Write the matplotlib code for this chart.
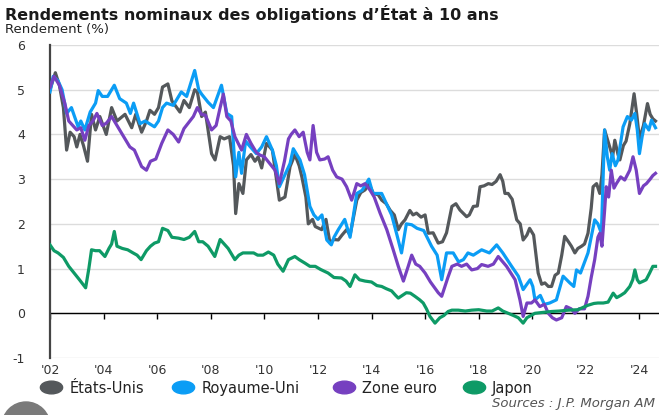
import numpy as np
import matplotlib
matplotlib.use('Agg')
import matplotlib.pyplot as plt
from matplotlib.lines import Line2D
from matplotlib.path import Path
from matplotlib.patches import Circle
from matplotlib.transforms import IdentityTransform

# 10-year government bond yields (%)
us_years = [2002.0, 2002.2, 2002.35, 2002.5, 2002.62, 2002.75, 2002.9, 2003.0, 2003.12, 2003.25,
            2003.4, 2003.55, 2003.7, 2003.86, 2004.1, 2004.3, 2004.5, 2004.8, 2005.05, 2005.2,
            2005.42, 2005.6, 2005.73, 2005.9, 2006.05, 2006.2, 2006.4, 2006.55, 2006.85, 2007.0,
            2007.2, 2007.4, 2007.5, 2007.66, 2007.8, 2008.03, 2008.16, 2008.35, 2008.5, 2008.7,
            2008.85, 2008.93, 2009.05, 2009.2, 2009.33, 2009.5, 2009.65, 2009.77, 2009.9, 2010.08,
            2010.3, 2010.45, 2010.56, 2010.77, 2010.96, 2011.14, 2011.3, 2011.4, 2011.55, 2011.64,
            2011.8, 2011.9, 2012.14, 2012.3, 2012.45, 2012.6, 2012.76, 2012.9, 2013.07, 2013.2,
            2013.45, 2013.6, 2013.76, 2013.9, 2014.07, 2014.25, 2014.38, 2014.55, 2014.7, 2014.85,
            2015.0, 2015.12, 2015.25, 2015.43, 2015.55, 2015.68, 2015.85, 2016.0, 2016.12, 2016.3,
            2016.49, 2016.65, 2016.8, 2017.0, 2017.15, 2017.3, 2017.55, 2017.65, 2017.8, 2017.95,
            2018.05, 2018.2, 2018.36, 2018.5, 2018.65, 2018.8, 2018.9, 2018.98, 2019.1, 2019.25,
            2019.42, 2019.55, 2019.66, 2019.8, 2019.9, 2020.05, 2020.22, 2020.35, 2020.47, 2020.6,
            2020.72, 2020.85, 2020.97, 2021.1, 2021.21, 2021.35, 2021.46, 2021.59, 2021.7, 2021.84,
            2021.95, 2022.08, 2022.2, 2022.27, 2022.4, 2022.52, 2022.6, 2022.7, 2022.8, 2022.89,
            2023.0, 2023.08, 2023.2, 2023.27, 2023.4, 2023.5, 2023.64, 2023.8, 2023.9, 2024.0,
            2024.15, 2024.3, 2024.4, 2024.5, 2024.6]
us_vals = [5.0, 5.38, 5.1, 4.6, 3.65, 4.05, 3.95, 3.72, 4.0, 3.75,
           3.4, 4.45, 4.1, 4.4, 4.0, 4.6, 4.3, 4.45, 4.15, 4.45,
           4.05, 4.3, 4.54, 4.45, 4.6, 5.06, 5.13, 4.75, 4.5, 4.76,
           4.6, 5.0, 4.95, 4.4, 4.5, 3.57, 3.43, 3.95, 3.9, 3.95,
           3.3, 2.23, 2.9, 2.68, 3.43, 3.55, 3.4, 3.5, 3.25, 3.8,
           3.65, 3.0, 2.53, 2.6, 3.28, 3.55, 3.3, 3.05, 2.6, 2.0,
           2.1, 1.94, 1.87, 2.1, 1.57, 1.65, 1.64, 1.75, 1.87, 1.75,
           2.53, 2.7, 2.76, 2.9, 2.68, 2.65, 2.53, 2.45, 2.3, 2.2,
           1.87, 2.0, 2.09, 2.3, 2.2, 2.24, 2.15, 2.2, 1.79, 1.8,
           1.57, 1.6, 1.8, 2.39, 2.45, 2.31, 2.16, 2.2, 2.39, 2.4,
           2.83, 2.85, 2.9, 2.88, 2.95, 3.1, 2.95, 2.68, 2.68, 2.55,
           2.09, 2.0, 1.64, 1.75, 1.9, 1.75, 0.9, 0.65, 0.68, 0.6,
           0.6, 0.85, 0.9, 1.3, 1.72, 1.6, 1.5, 1.35, 1.45, 1.5,
           1.55, 1.79, 2.35, 2.83, 2.9, 2.68, 3.1, 4.1, 3.9, 3.72,
           3.5, 3.87, 3.55, 3.43, 3.75, 3.85, 4.24, 4.91, 4.45, 3.9,
           4.2, 4.69, 4.45, 4.35, 4.3]

uk_years = [2002.0, 2002.12, 2002.3, 2002.45, 2002.62, 2002.8, 2003.05, 2003.15, 2003.3, 2003.5,
            2003.7, 2003.8, 2003.95, 2004.15, 2004.4, 2004.6, 2004.85, 2005.0, 2005.12, 2005.36,
            2005.55, 2005.9, 2006.05, 2006.2, 2006.35, 2006.6, 2006.9, 2007.1, 2007.4, 2007.55,
            2007.66, 2007.9, 2008.1, 2008.4, 2008.6, 2008.78, 2008.93, 2009.05, 2009.15, 2009.3,
            2009.48, 2009.7, 2009.9, 2010.08, 2010.3, 2010.45, 2010.56, 2010.77, 2010.96, 2011.08,
            2011.33, 2011.5, 2011.7, 2011.85, 2012.0, 2012.15, 2012.33, 2012.5, 2012.6, 2012.76,
            2013.0, 2013.2, 2013.45, 2013.65, 2013.9, 2014.05, 2014.38, 2014.55, 2014.75, 2014.95,
            2015.12, 2015.3, 2015.5, 2015.7, 2015.95, 2016.24, 2016.45, 2016.62, 2016.8, 2017.05,
            2017.25, 2017.43, 2017.6, 2017.8, 2018.11, 2018.4, 2018.67, 2018.9, 2019.23, 2019.48,
            2019.66, 2019.8, 2019.92, 2020.02, 2020.1, 2020.3, 2020.45, 2020.65, 2020.9, 2021.15,
            2021.4, 2021.55, 2021.65, 2021.8, 2022.08, 2022.33, 2022.45, 2022.58, 2022.7, 2022.8,
            2022.89, 2022.98, 2023.1, 2023.2, 2023.39, 2023.55, 2023.7, 2023.83, 2023.92, 2024.0,
            2024.1, 2024.2, 2024.35, 2024.45, 2024.6]
uk_vals = [4.95, 5.3, 5.2, 5.0, 4.47, 4.6, 4.17, 4.3, 4.1, 4.5,
           4.7, 4.98, 4.85, 4.85, 5.1, 4.8, 4.7, 4.47, 4.7, 4.24,
           4.3, 4.17, 4.3, 4.6, 4.7, 4.65, 4.95, 4.85, 5.43, 5.0,
           4.9, 4.72, 4.6, 5.1, 4.47, 4.4, 3.05, 3.6, 3.13, 3.85,
           3.72, 3.57, 3.72, 3.95, 3.65, 3.3, 2.83, 3.1, 3.35, 3.68,
           3.43, 3.1, 2.39, 2.2, 2.1, 2.2, 1.64, 1.53, 1.7, 1.87,
           2.1, 1.7, 2.68, 2.75, 3.0, 2.68, 2.68, 2.46, 2.2, 1.75,
           1.35, 2.0, 1.98, 1.9, 1.85, 1.5, 1.3, 0.75, 1.35, 1.35,
           1.15, 1.2, 1.35, 1.3, 1.42, 1.35, 1.53, 1.35, 1.05, 0.83,
           0.53, 0.65, 0.75, 0.6, 0.3, 0.4, 0.2, 0.23, 0.3, 0.83,
           0.68, 0.6, 0.97, 0.9, 1.35, 2.09, 2.0, 1.79, 4.1, 3.5,
           3.2, 3.57, 3.3, 3.43, 4.17, 4.4, 4.32, 4.47, 4.1, 3.57,
           3.95, 4.24, 4.1, 4.32, 4.15]

ez_years = [2002.0, 2002.15, 2002.35, 2002.55, 2002.7, 2002.85, 2003.0, 2003.15, 2003.3, 2003.45,
            2003.6, 2003.75, 2003.95, 2004.1, 2004.3, 2004.55, 2004.8, 2004.98, 2005.15, 2005.42,
            2005.6, 2005.75, 2005.95, 2006.17, 2006.4, 2006.6, 2006.8, 2007.0, 2007.35, 2007.5,
            2007.65, 2007.8, 2008.03, 2008.2, 2008.35, 2008.47, 2008.6, 2008.75, 2008.9, 2009.15,
            2009.33, 2009.5, 2009.7, 2009.83, 2010.0, 2010.2, 2010.4, 2010.56, 2010.75, 2010.9,
            2011.0, 2011.14, 2011.3, 2011.45, 2011.6, 2011.7, 2011.82, 2011.95, 2012.07, 2012.25,
            2012.38, 2012.55, 2012.7, 2012.9, 2013.07, 2013.26, 2013.45, 2013.6, 2013.76, 2013.95,
            2014.1, 2014.32, 2014.57, 2014.81, 2015.0, 2015.19, 2015.37, 2015.5, 2015.65, 2015.8,
            2016.0, 2016.2, 2016.49, 2016.62, 2016.85, 2017.0, 2017.2, 2017.36, 2017.55, 2017.74,
            2017.95, 2018.11, 2018.35, 2018.55, 2018.73, 2018.9, 2019.04, 2019.2, 2019.36, 2019.54,
            2019.66, 2019.8, 2019.97, 2020.1, 2020.28, 2020.45, 2020.6, 2020.75, 2020.9, 2021.1,
            2021.27, 2021.45, 2021.59, 2021.75, 2021.95, 2022.08, 2022.2, 2022.33, 2022.45, 2022.52,
            2022.6, 2022.7, 2022.76, 2022.85, 2022.95, 2023.05, 2023.14, 2023.3, 2023.45, 2023.64,
            2023.76, 2023.88, 2024.0, 2024.15, 2024.26, 2024.4, 2024.5, 2024.6]
ez_vals = [5.05, 5.3, 5.1, 4.7, 4.3, 4.2, 4.1, 4.15, 3.87, 4.2,
           4.3, 4.47, 4.2, 4.25, 4.4, 4.15, 3.9, 3.72, 3.65, 3.28,
           3.2, 3.4, 3.45, 3.8, 4.1, 4.0, 3.83, 4.13, 4.4, 4.6,
           4.45, 4.43, 4.1, 4.2, 4.6, 4.9, 4.4, 4.3, 3.95, 3.65,
           4.0, 3.8, 3.6, 3.54, 3.5, 3.35, 3.2, 2.9, 3.4, 3.9,
           4.0, 4.1, 3.95, 4.05, 3.6, 3.43, 4.2, 3.6, 3.43, 3.45,
           3.5, 3.2, 3.05, 3.0, 2.83, 2.53, 2.9, 2.85, 2.9, 2.75,
           2.6, 2.24, 1.87, 1.42, 1.05, 0.72, 1.05, 1.3, 1.1, 1.05,
           0.9, 0.7, 0.46, 0.38, 0.8, 1.05, 1.1, 1.05, 1.1, 0.97,
           1.0, 1.09, 1.05, 1.1, 1.27, 1.15, 1.05, 0.9, 0.75, 0.3,
           -0.07, 0.23, 0.23, 0.3, 0.15, 0.2, 0.0, -0.1, -0.15, -0.1,
           0.15, 0.1, 0.0, 0.1, 0.1, 0.38, 0.8, 1.2, 1.7, 1.79,
           1.5, 2.3, 2.83, 2.6, 3.2, 2.8, 2.9, 3.05, 2.98, 3.2,
           3.5, 3.2, 2.68, 2.85, 2.9, 3.0, 3.08, 3.13]

jp_years = [2002.0, 2002.15, 2002.3, 2002.5, 2002.7, 2002.9, 2003.1, 2003.33, 2003.45, 2003.55,
            2003.7, 2003.85, 2004.05, 2004.2, 2004.3, 2004.4, 2004.5, 2004.7, 2004.9, 2005.1,
            2005.25, 2005.4, 2005.6, 2005.75, 2005.9, 2006.05, 2006.2, 2006.4, 2006.55, 2006.8,
            2007.0, 2007.2, 2007.4, 2007.55, 2007.7, 2007.9, 2008.15, 2008.35, 2008.5, 2008.65,
            2008.9, 2009.05, 2009.2, 2009.4, 2009.6, 2009.75, 2009.95, 2010.15, 2010.35, 2010.5,
            2010.7, 2010.9, 2011.14, 2011.3, 2011.52, 2011.7, 2011.9, 2012.1, 2012.38, 2012.6,
            2012.88, 2013.05, 2013.2, 2013.38, 2013.55, 2013.76, 2014.0, 2014.2, 2014.38, 2014.55,
            2014.75, 2014.9, 2015.0, 2015.15, 2015.3, 2015.45, 2015.62, 2015.8, 2015.93, 2016.05,
            2016.18, 2016.37, 2016.55, 2016.7, 2016.86, 2017.0, 2017.24, 2017.5, 2017.74, 2018.0,
            2018.3, 2018.5, 2018.73, 2018.9, 2019.1, 2019.3, 2019.48, 2019.66, 2019.8, 2019.95,
            2020.1, 2020.4, 2020.72, 2021.0, 2021.34, 2021.7, 2022.08, 2022.3, 2022.45, 2022.65,
            2022.83, 2023.02, 2023.15, 2023.3, 2023.45, 2023.64, 2023.75, 2023.83, 2023.92, 2024.0,
            2024.15, 2024.25, 2024.38, 2024.5, 2024.6]
jp_vals = [1.53, 1.4, 1.35, 1.25, 1.05, 0.9, 0.75, 0.57, 1.0, 1.42,
           1.4, 1.4, 1.27, 1.45, 1.55, 1.83, 1.5, 1.45, 1.42, 1.35,
           1.3, 1.2, 1.4, 1.5, 1.57, 1.6, 1.9, 1.85, 1.7, 1.68,
           1.65, 1.7, 1.83, 1.6, 1.6, 1.5, 1.27, 1.65, 1.55, 1.45,
           1.2, 1.3, 1.35, 1.35, 1.35, 1.3, 1.3, 1.37, 1.3, 1.1,
           0.94, 1.2, 1.27, 1.2, 1.12, 1.05, 1.05, 0.98, 0.9, 0.8,
           0.79, 0.72, 0.6, 0.86, 0.75, 0.72, 0.7, 0.62, 0.6, 0.55,
           0.5, 0.4, 0.34, 0.4, 0.46, 0.45, 0.38, 0.3, 0.23, 0.1,
           -0.07, -0.22, -0.1, -0.05, 0.04, 0.07, 0.07, 0.05, 0.07, 0.08,
           0.05, 0.05, 0.12, 0.05, 0.0, -0.05, -0.1, -0.22, -0.1, -0.05,
           0.0, 0.02, 0.04, 0.05, 0.07, 0.08, 0.18, 0.22, 0.23, 0.23,
           0.25, 0.45, 0.35, 0.4, 0.46, 0.6, 0.75, 0.97, 0.75, 0.68,
           0.72, 0.75, 0.9, 1.05, 1.05]

series_names = ['États-Unis', 'Royaume-Uni', 'Zone euro', 'Japon']
series_colors = ['#54585b', '#0b9df5', '#7640c0', '#0e9a66']
tick_years = list(range(2002, 2025, 2))
tick_labels = ["'%02d" % (y % 100) for y in tick_years]
y_ticks = list(range(-1, 7))

plt.rcParams['font.family'] = ['DejaVu Sans']

fig = plt.figure(figsize=(6.64, 4.15), dpi=100)
ax = fig.add_axes([50 / 664, 57 / 415, 609 / 664, 313 / 415])

series = [(us_years, us_vals), (uk_years, uk_vals), (ez_years, ez_vals), (jp_years, jp_vals)]
for (xs, ys), name, col in zip(series, series_names, series_colors):
    ax.plot(xs, ys, color=col, lw=2.3, label=name, solid_joinstyle='round', zorder=3)

ax.set_xlim(2002, 2024.73)
ax.set_ylim(-1, 6)
ax.set_yticks(y_ticks)
ax.set_yticklabels([str(v) for v in y_ticks])
ax.set_xticks(tick_years)
ax.set_xticklabels(tick_labels)
ax.tick_params(axis='y', length=0, pad=18, labelsize=9, labelcolor='#333333')
ax.tick_params(axis='x', length=0, pad=4, labelsize=9, labelcolor='#333333')
ax.grid(axis='y', color='#dcdcdc', lw=1)
ax.set_axisbelow(True)
ax.axhline(0, color='black', lw=1, zorder=2)
for s in ['top', 'right', 'bottom']:
    ax.spines[s].set_visible(False)
ax.spines['left'].set_color('#444444')
ax.spines['left'].set_linewidth(1.6)

# small tick marks hanging under the zero line
zero_axis = ax.secondary_xaxis(1 / 7)
zero_axis.set_xticks(tick_years)
zero_axis.tick_params(axis='x', which='major', bottom=True, top=False, direction='out',
                      length=4, width=1, color='black', labelbottom=False, labeltop=False)
zero_axis.spines['bottom'].set_visible(False)
zero_axis.spines['top'].set_visible(False)

# legend with oval markers, one entry per position as in the reference
oval = Path(Path.unit_circle().vertices * [1.75, 1.0], Path.unit_circle().codes)
legend_x = [40, 172, 333, 463]
for name, col, lx in zip(series_names, series_colors, legend_x):
    h = Line2D([], [], ls='none', marker=oval, markersize=16, color=col)
    fig.legend([h], [name], loc='center left', bbox_to_anchor=(lx / 664, 1 - 388 / 415),
               frameon=False, fontsize=10.5, handlelength=1.5, handletextpad=0.5,
               borderpad=0, borderaxespad=0, labelcolor='#222222')

fig.text(5 / 664, 1 - 14 / 415, "Rendements nominaux des obligations d\u2019État à 10 ans",
         fontsize=11.5, fontweight='bold', va='center', ha='left', color='#1a1a1a')
fig.text(5 / 664, 1 - 30 / 415, 'Rendement (%)', fontsize=9.5, va='center', ha='left', color='#222222')
fig.text(655 / 664, 1 - 403 / 415, 'Sources : J.P. Morgan AM', fontsize=9.5, style='italic',
         va='center', ha='right', color='#555555')

# partial grey disc in the bottom-left corner
fig.add_artist(Circle((26, -11), 24, transform=IdentityTransform(), color='#7a7a7a', zorder=0))

fig.savefig('out.png', dpi=100)
